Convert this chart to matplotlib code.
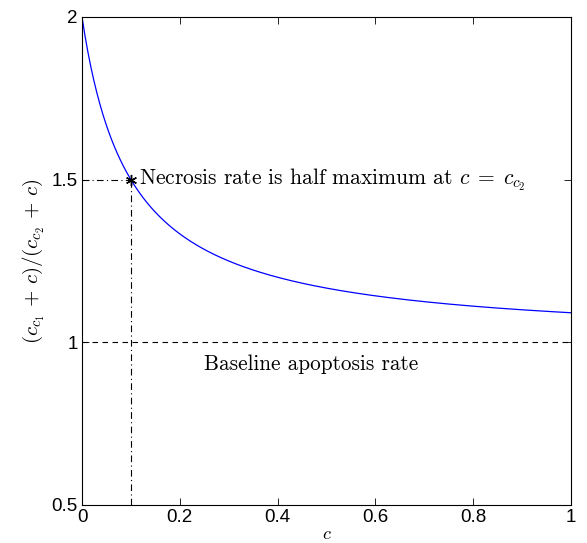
import numpy as np
import matplotlib
matplotlib.use("Agg")
import matplotlib.pyplot as plt

plt.rcParams['mathtext.fontset'] = 'cm'
plt.rcParams['font.family'] = ['Liberation Sans', 'DejaVu Sans']

# Model parameters for the rate ratio (c_c1 + c) / (c_c2 + c)
c_c1 = 0.2
c_c2 = 0.1
baseline = 1.0

x_ticks = [0, 0.2, 0.4, 0.6, 0.8, 1]
x_tick_labels = ['0', '0.2', '0.4', '0.6', '0.8', '1']
y_ticks = [0.5, 1, 1.5, 2]
y_tick_labels = ['0.5', '1', '1.5', '2']

c = np.linspace(0, 1, 500)
ratio = (c_c1 + c) / (c_c2 + c)
half_val = (c_c1 + c_c2) / (c_c2 + c_c2)

fig = plt.figure(figsize=(5.87, 5.43), dpi=100)
ax = fig.add_axes([0.1397, 0.070, 0.833, 0.8987])

dashdot = (0, (6, 3, 1, 3))
ax.plot(c, ratio, color='#0000ff', lw=0.9)
ax.axhline(baseline, color='black', lw=0.8, ls=(0, (5, 4)))
ax.plot([0, c_c2], [half_val, half_val], color='black', lw=0.8, ls=dashdot)
ax.plot([c_c2, c_c2], [0.5, half_val], color='black', lw=0.8, ls=dashdot)
ax.plot([c_c2], [half_val], marker=(6, 2, 0), color='black', ms=8, mew=1.0)

ax.text(0.116, half_val, r'Necrosis rate is half maximum at $c\;=\;c_{c_2}$',
        family='cmr10', fontsize=15.5, va='center', ha='left')
ax.text(0.469, 0.933, 'Baseline apoptosis rate',
        family='cmr10', fontsize=15.3, va='center', ha='center')

ax.set_xlim(0, 1)
ax.set_ylim(0.5, 2)
ax.set_xticks(x_ticks)
ax.set_xticklabels(x_tick_labels)
ax.set_yticks(y_ticks)
ax.set_yticklabels(y_tick_labels)
ax.tick_params(direction='in', labelsize=13.5, length=5, width=0.6,
               top=True, right=True, pad=3)
for s in ax.spines.values():
    s.set_linewidth(0.8)

ax.set_xlabel(r'$c$', fontsize=13, labelpad=0)
ax.set_ylabel(r'$(c_{c_1}\,+\,c)/(c_{c_2}\,+\,c)$', fontsize=15, labelpad=3)

fig.savefig('out.png', dpi=100)
